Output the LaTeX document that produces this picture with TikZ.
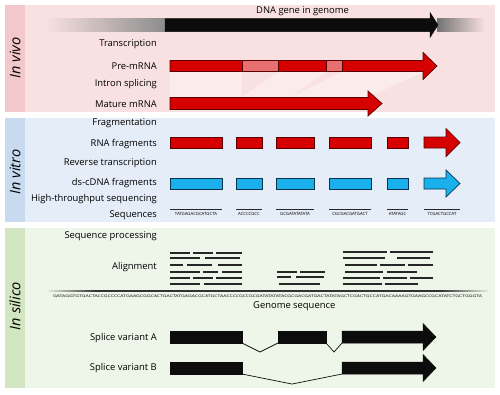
\documentclass[tikz,border=0pt]{standalone}
\usepackage{fontspec}
\setmainfont{Open Sans}
\usepackage{graphicx}
\definecolor{bgA}{RGB}{249,225,225}
\definecolor{stA}{RGB}{243,200,205}
\definecolor{bgB}{RGB}{229,237,248}
\definecolor{stB}{RGB}{200,218,240}
\definecolor{bgC}{RGB}{238,245,233}
\definecolor{stC}{RGB}{210,230,193}
\definecolor{myred}{RGB}{214,0,0}
\definecolor{reddark}{RGB}{90,0,0}
\definecolor{mylight}{RGB}{232,112,112}
\definecolor{myblue}{RGB}{26,176,236}
\definecolor{bluedark}{RGB}{10,50,75}
\definecolor{ink}{RGB}{12,12,12}
\newcommand\barrow[7]{%
 \draw[#1] (#2,{#5-#6}) -- (#3,{#5-#6}) -- (#3,{#5-#7}) -- (#4,#5) -- (#3,{#5+#7}) -- (#3,{#5+#6}) -- (#2,{#5+#6}) -- cycle;}
\begin{document}
\begin{tikzpicture}[x=1pt,y=-1pt,
  font=\fontsize{9.4}{11}\selectfont,
  lbl/.style={anchor=east,inner sep=0pt},
  side/.style={rotate=90,inner sep=0pt,font=\fontsize{14.5}{16}\selectfont\itshape},
  redshape/.style={fill=myred,draw=reddark,line width=0.7pt,line join=miter},
  blueshape/.style={fill=myblue,draw=bluedark,line width=0.7pt,line join=miter},
  blackshape/.style={fill=ink,draw=ink,line width=0.5pt},
  introbox/.style={fill=mylight,draw=reddark,line width=0.7pt},
  seqline/.style={line width=0.6pt,draw=black!85},
  seqtxt/.style={inner sep=0pt,font=\fontsize{4.3}{5}\selectfont},
  alnline/.style={line width=1.3pt,draw=black!85},
  joinline/.style={line width=0.7pt,draw=ink},
  splicefill/.style={fill=white,opacity=0.35}]
\useasboundingbox (0,0) rectangle (500,394);
\fill[white] (0,0) rectangle (500,394);
% panels
\fill[bgA] (5,5) rectangle (495,112);
\fill[stA] (5,5) rectangle (25,112);
\fill[bgB] (5,118) rectangle (495,222);
\fill[stB] (5,118) rectangle (25,222);
\fill[bgC] (5,228) rectangle (495,388);
\fill[stC] (5,228) rectangle (25,388);
\node[side] (vivo) at (15,58) {In vivo};
\node[side] (vitro) at (15,172) {In vitro};
\node[side] (silico) at (15,306) {In silico};
% ---------- In vivo
\shade[left color=bgA,right color=black!45] (45,18.5) rectangle (165,31.5);
\shade[left color=black!55,right color=bgA] (437,18.5) rectangle (485,31.5);
\barrow{blackshape}{165}{430}{438}{25}{6.5}{12.5}
\node[anchor=west,inner sep=0pt] (dnalbl) at (256,11) {DNA gene in genome};
\node[lbl] (transcr) at (157,44) {Transcription};
\node[lbl] (premlbl) at (157,66) {Pre-mRNA};
\node[lbl] (splic) at (157,84) {Intron splicing};
\node[lbl] (matlbl) at (157,104) {Mature mRNA};
% splicing shading
\fill[splicefill] (170,72) -- (242,72) -- (242,97) -- (170,97) -- cycle;
\fill[splicefill] (278,72) -- (326,72) -- (290,97) -- (242,97) -- cycle;
\fill[splicefill] (342,72) -- (423,72) -- (368,97) -- (290,97) -- cycle;
\barrow{redshape}{170}{423}{437}{66}{5.5}{13.5}
\draw[introbox] (242,60.5) rectangle (278,71.5);
\draw[introbox] (326,60.5) rectangle (342,71.5);
\barrow{redshape}{170}{368}{382}{103.5}{6}{12.5}
% ---------- In vitro
\node[lbl] (frag) at (157,123) {Fragmentation};
\node[lbl] (rnalbl) at (157,144) {RNA fragments};
\node[lbl] (rt) at (157,163) {Reverse transcription};
\node[lbl] (dslbl) at (157,183) {ds-cDNA fragments};
\node[lbl] (hts) at (157,199) {High-throughput sequencing};
\node[lbl] (seqlbl) at (157,215) {Sequences};
\foreach \a/\b in {170/222,236/262,276/314,329/371,387/408}{
  \draw[redshape] (\a,137) rectangle (\b,148);
  \draw[blueshape] (\a,178) rectangle (\b,189);
  \draw[seqline] (\a,209) -- (\b,209);
}
\barrow{redshape}{424}{446}{460}{142.5}{5.5}{14}
\barrow{blueshape}{424}{446}{460}{183.5}{5.5}{13.5}
\draw[seqline] (424,209) -- (460,209);
\node[seqtxt] (s1) at (196,214) {TATGAGACGCATGCTA};
\node[seqtxt] (s2) at (249,214) {ACCCCGCC};
\node[seqtxt] (s3) at (295,214) {GCGATATATATA};
\node[seqtxt] (s4) at (350,214) {CGCGACGATGACT};
\node[seqtxt] (s5) at (397.5,214) {ATATAGC};
\node[seqtxt] (s6) at (442,214) {TCGACTGCCAT};
% ---------- In silico
\node[lbl] (sproc) at (157,236) {Sequence processing};
\node[lbl] (alnlbl) at (157,267) {Alignment};
\foreach \y/\a/\b in {
 253/170/190, 253/193/213, 253/216/242,
 258/170/200, 258/205/240,
 265/170/183, 265/187/212, 265/218/242,
 272/170/200, 272/203/218, 272/222/242,
 278/170/190, 278/193/213, 278/216/242,
 284/170/200, 284/204/242,
 272/277/297, 272/300/325,
 277/277/291, 277/296/324,
 284/279/320,
 252/343/387, 252/390/433,
 258/343/385, 258/397/430,
 265/345/377, 265/380/405, 265/408/433,
 272/345/383, 272/387/417,
 278/343/380, 278/383/407, 278/410/433,
 284/343/382, 284/385/418}{
  \draw[alnline] (\a,\y) -- (\b,\y);
}
\shade[left color=bgC,right color=black!80] (45,290.3) rectangle (95,291.8);
\fill[black!80] (95,290.3) rectangle (440,291.8);
\shade[left color=black!80,right color=bgC] (440,290.3) rectangle (490,291.8);
\node[inner sep=0pt] (genseq) at (267.5,296.5) {\resizebox{429pt}{2.6pt}{GATAGGTGTGACTACCGCCCCATGAAGCGGCACTGACTATGAGACGCATGCTAACCCCGCCGCGATATATATACGCGACGATGACTATATAGCTCGACTGCCATGACAAAAGTGAAGCCGCATATCTGCTGGGTA}};
\node[anchor=west,inner sep=0pt] (genlbl) at (253,306) {Genome sequence};
\node[lbl] (vA) at (157,338) {Splice variant A};
\node[lbl] (vB) at (157,368) {Splice variant B};
% variant A
\draw[blackshape] (170,331) rectangle (242,343);
\draw[blackshape] (278,331) rectangle (326,343);
\barrow{blackshape}{342}{423}{436}{337}{6}{13.5}
\draw[joinline] (242,343) -- (260,352) -- (278,343);
\draw[joinline] (326,343) -- (334,352) -- (342,343);
% variant B
\draw[blackshape] (170,362) rectangle (242,374);
\barrow{blackshape}{342}{423}{436}{368}{6}{13.5}
\draw[joinline] (242,374) -- (292,384) -- (342,374);
\end{tikzpicture}
\end{document}
